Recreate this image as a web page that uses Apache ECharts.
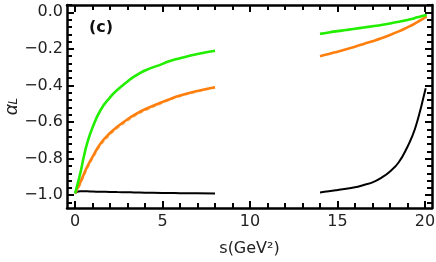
<!DOCTYPE html>
<html>
<head>
<meta charset="utf-8">
<script src="https://cdn.jsdelivr.net/npm/echarts@6/dist/echarts.min.js"></script>
<style>html,body{margin:0;padding:0;background:#fff}#c{width:436px;height:262px}</style>
</head>
<body>
<div id="c"></div>
<script>
// ---- data ----
const sLow = [0, 0.1, 0.3, 0.5, 0.69, 1.0, 1.46, 2.0, 2.41, 3.0, 3.37, 4.0, 5.0, 5.29, 6.0, 7.0, 8.0];
const greenLow  = [-0.99, -0.955, -0.88, -0.79, -0.717, -0.63, -0.534, -0.465, -0.425, -0.378, -0.352, -0.318, -0.282, -0.27, -0.251, -0.228, -0.21];
const orangeLow = [-0.99, -0.97, -0.93, -0.885, -0.845, -0.79, -0.717, -0.66, -0.626, -0.585, -0.562, -0.53, -0.49, -0.479, -0.455, -0.43, -0.41];
const orangeDashLow = [-0.99, -0.975, -0.94, -0.895, -0.855, -0.80, -0.727, -0.67, -0.634, -0.593, -0.569, -0.537, -0.495, -0.483, -0.459, -0.433, -0.412];
const blackLow  = [-0.99, -0.982, -0.979, -0.979, -0.979, -0.98, -0.981, -0.982, -0.983, -0.984, -0.985, -0.986, -0.988, -0.988, -0.989, -0.990, -0.991];

const sHigh = [14.0, 14.5, 15.0, 15.5, 16.0, 16.5, 17.0, 17.5, 18.0, 18.5, 19.0, 19.3, 19.5, 19.7, 19.9, 20.04, 20.1];
const greenHigh  = [-0.118, -0.11, -0.103, -0.097, -0.09, -0.083, -0.076, -0.069, -0.061, -0.052, -0.042, -0.035, -0.029, -0.024, -0.019, -0.016, -0.015];
const orangeHigh = [-0.24, -0.228, -0.215, -0.202, -0.188, -0.173, -0.158, -0.142, -0.124, -0.104, -0.082, -0.068, -0.057, -0.046, -0.034, -0.026, -0.023];
const blackHighS = [14.0, 14.5, 15.0, 16.0, 16.5, 17.0, 17.5, 18.0, 18.5, 19.0, 19.3, 19.5, 19.7, 19.9, 20.04];
const blackHigh  = [-0.985, -0.979, -0.972, -0.957, -0.944, -0.93, -0.905, -0.87, -0.82, -0.735, -0.67, -0.615, -0.547, -0.47, -0.415];

const xMajor = [0, 5, 10, 15, 20];
const xMinor = [1, 2, 3, 4, 6, 7, 8, 9, 11, 12, 13, 14, 16, 17, 18, 19];
const yMajor = [-1.0, -0.8, -0.6, -0.4, -0.2, 0.0];
const yMinor = [-1.04, -0.96, -0.92, -0.88, -0.84, -0.76, -0.72, -0.68, -0.64, -0.56, -0.52, -0.48, -0.44, -0.36, -0.32, -0.28, -0.24, -0.16, -0.12, -0.08, -0.04, 0.04];

const xName = 's(GeV²)';
const panelLabel = '(c)';

// ---- chart ----
const pair = (xs, ys) => xs.map((x, i) => [x, ys[i]]);
const X_MIN = -0.46, X_MAX = 20.4, Y_MIN = -1.07, Y_MAX = 0.04;
const FONT = 'DejaVu Sans';

function ax(t, grid, pos, ticks, len, withLine, withLabel) {
  const isX = t === 'x';
  const o = {
    type: 'value', gridIndex: grid, position: pos,
    min: isX ? X_MIN : Y_MIN, max: isX ? X_MAX : Y_MAX,
    axisLine: {show: withLine, onZero: false, lineStyle: {color: '#000', width: 2.5}},
    splitLine: {show: false},
    axisTick: {show: true, inside: true, length: len, customValues: ticks, lineStyle: {color: '#000', width: 2}},
    axisLabel: {show: withLabel, customValues: ticks, color: '#222', fontFamily: FONT, fontSize: 16,
      margin: isX ? 6 : 4,
      formatter: isX ? (v => String(Math.round(v))) : (v => (v < -1e-9 ? '\u2212' : '') + Math.abs(v).toFixed(1))}
  };
  if (withLabel && isX) {
    Object.assign(o, {name: xName, nameLocation: 'middle', nameGap: 33, nameMoveOverlap: false,
      nameTextStyle: {color: '#222', fontFamily: FONT, fontSize: 16}});
  }
  if (withLabel && !isX) {
    Object.assign(o, {name: '{a|α}{b|L}', nameLocation: 'middle', nameGap: 46, nameMoveOverlap: false,
      nameTextStyle: {color: '#222', rich: {
        a: {fontFamily: 'Liberation Sans', fontStyle: 'italic', fontSize: 19, color: '#222'},
        b: {fontFamily: 'Liberation Sans', fontStyle: 'italic', fontSize: 12, color: '#222', padding: [4, 0, 0, 0]}
      }}});
  }
  return o;
}

const chart = echarts.init(document.getElementById('c'));
const line = (name, data, color, width, dash) => ({
  name, type: 'line', data, smooth: 0.5, symbol: 'none', xAxisIndex: 0, yAxisIndex: 0,
  lineStyle: {color, width, type: dash || 'solid'}, z: 3
});
const gridRect = {left: 67, right: 4, top: 5, bottom: 54, outerBoundsMode: 'none'};
chart.setOption({
  animation: false,
  grid: [gridRect, Object.assign({}, gridRect)],
  xAxis: [
    ax('x', 0, 'bottom', xMajor, 7, true, true),
    ax('x', 0, 'top', xMajor, 7, true, false),
    ax('x', 1, 'bottom', xMinor, 5, false, false),
    ax('x', 1, 'top', xMinor, 5, false, false)
  ],
  yAxis: [
    ax('y', 0, 'left', yMajor, 7, true, true),
    ax('y', 0, 'right', yMajor, 7, true, false),
    ax('y', 1, 'left', yMinor, 5, false, false),
    ax('y', 1, 'right', yMinor, 5, false, false)
  ],
  graphic: [{
    type: 'text', left: 89, top: 20,
    style: {text: panelLabel, font: 'bold 16px "DejaVu Sans"', fill: '#111'}
  }],
  series: [
    line('black low', pair(sLow, blackLow), '#000', 2),
    line('black high', pair(blackHighS, blackHigh), '#000', 2),
    line('orange dash low', pair(sLow, orangeDashLow), '#ffb870', 2, [4, 3]),
    line('orange low', pair(sLow, orangeLow), '#ff7f0e', 2.6),
    line('orange high', pair(sHigh, orangeHigh), '#ff7f0e', 2.6),
    line('green low', pair(sLow, greenLow), '#22ee00', 2.6),
    line('green high', pair(sHigh, greenHigh), '#22ee00', 2.6)
  ]
});
</script>
</body>
</html>
